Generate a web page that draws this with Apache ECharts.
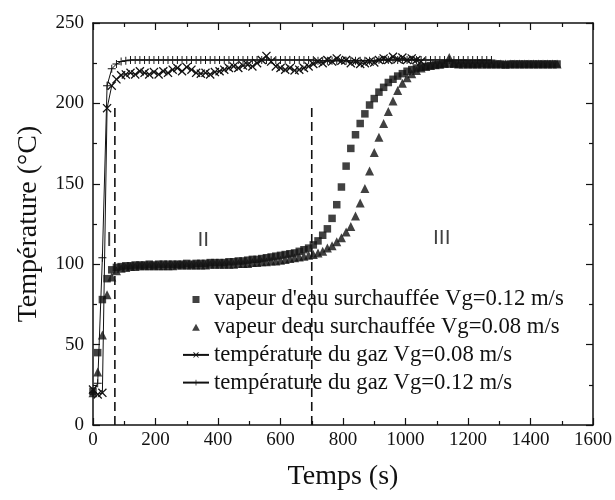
<!DOCTYPE html>
<html>
<head>
<meta charset="utf-8">
<script src="https://cdn.jsdelivr.net/npm/echarts@6/dist/echarts.min.js"></script>
<style>
  html, body { margin: 0; padding: 0; background: #fff; }
  #chart { width: 615px; height: 500px; }
</style>
</head>
<body>
<div id="chart"></div>
<script>
// superheated steam, Vg = 0.12 m/s  [time (s), temperature (°C)]
var steamFast = [
  [0, 21], [15, 45], [30, 78], [45, 91], [60, 96.5], [75, 98], [90, 98.5], [105, 99],
  [120, 99], [135, 99.5], [150, 99.5], [165, 99.5], [180, 100], [195, 99.5], [210, 100],
  [225, 100], [240, 100], [255, 100], [270, 100], [285, 100], [300, 100.5], [315, 100],
  [330, 100.5], [345, 100.5], [360, 100.5], [375, 101], [390, 101], [405, 101], [420, 101],
  [435, 101.5], [450, 101.5], [465, 102], [480, 102], [495, 102.5], [510, 103], [525, 103],
  [540, 103.5], [555, 104], [570, 104.5], [585, 105], [600, 105.5], [615, 106], [630, 106.5],
  [645, 107], [660, 108], [675, 109], [690, 110], [705, 112], [720, 114.5], [735, 118],
  [750, 122], [765, 128.5], [780, 137], [795, 148], [810, 161], [825, 172], [840, 180.5],
  [855, 187.5], [870, 193.5], [885, 199], [900, 203], [915, 207], [930, 210], [945, 213],
  [960, 215], [975, 217], [990, 218.5], [1005, 220], [1020, 221], [1035, 222], [1050, 222.5],
  [1065, 223], [1080, 223.5], [1095, 224], [1110, 224], [1125, 224.5], [1140, 224.5],
  [1155, 224.5], [1170, 224.5], [1185, 225], [1200, 224.5], [1215, 224.5], [1230, 224.5],
  [1245, 225], [1260, 224.5], [1275, 224.5], [1290, 224.5], [1305, 224.5], [1320, 224],
  [1335, 224.5], [1350, 224.5], [1365, 224.5], [1380, 224.5], [1395, 224.5], [1410, 224.5],
  [1425, 224.5], [1440, 224.5], [1455, 224.5], [1470, 224.5], [1485, 224.5]
];

// superheated steam, Vg = 0.08 m/s
var steamSlow = [
  [0, 20], [15, 33], [30, 56], [45, 81], [60, 92], [75, 96], [90, 97.5], [105, 98],
  [120, 98.5], [135, 98.5], [150, 99], [165, 99], [180, 99], [195, 99], [210, 99],
  [225, 99], [240, 99], [255, 99], [270, 99.5], [285, 99.5], [300, 99.5], [315, 99.5],
  [330, 99.5], [345, 99.5], [360, 99.5], [375, 100], [390, 100], [405, 100], [420, 100],
  [435, 100], [450, 100], [465, 100.5], [480, 100.5], [495, 100.5], [510, 101], [525, 101],
  [540, 101.5], [555, 101.5], [570, 102], [585, 102], [600, 102.5], [615, 103], [630, 103.5],
  [645, 104], [660, 104.5], [675, 105], [690, 105.5], [705, 106], [720, 107], [735, 108],
  [750, 110], [765, 111.5], [780, 114], [795, 116.5], [810, 120], [825, 123.5], [840, 130],
  [855, 138], [870, 147], [885, 158], [900, 169.5], [915, 179], [930, 187.5], [945, 195],
  [960, 201.5], [975, 208], [990, 212.5], [1005, 216], [1020, 218.5], [1035, 220.5],
  [1050, 222], [1065, 223], [1080, 223.5], [1095, 224], [1110, 224.5], [1125, 225],
  [1140, 228.5], [1155, 225], [1170, 224.5], [1185, 224.5], [1200, 224.5], [1215, 224.5],
  [1230, 224.5], [1245, 224.5], [1260, 224.5], [1275, 224.5], [1290, 224.5], [1305, 224.5],
  [1320, 224.5], [1335, 224.5], [1350, 224.5], [1365, 224.5], [1380, 224.5], [1395, 224.5],
  [1410, 224.5], [1425, 224.5], [1440, 224.5], [1455, 224.5], [1470, 224.5], [1485, 224.5]
];

// gas temperature, Vg = 0.08 m/s
var gasSlow = [
  [0, 22], [15, 19], [30, 20], [45, 197], [60, 211], [75, 215], [90, 217.5], [105, 218],
  [120, 219], [135, 218], [150, 220], [165, 219], [180, 218], [195, 219.5], [210, 218],
  [225, 220], [240, 219], [255, 221], [270, 222], [285, 220], [300, 222.5], [315, 221],
  [330, 219], [345, 218.5], [360, 219], [375, 218], [390, 219.5], [405, 220], [420, 221],
  [435, 222], [450, 223], [465, 222], [480, 223.5], [495, 224], [510, 223], [525, 225],
  [540, 227], [555, 229.5], [570, 226], [585, 223], [600, 222], [615, 221], [630, 222],
  [645, 220.5], [660, 221], [675, 222], [690, 223], [705, 224.5], [720, 226], [735, 225],
  [750, 227], [765, 226], [780, 228], [795, 226.5], [810, 227], [825, 225], [840, 226],
  [855, 224.5], [870, 225], [885, 226], [900, 225.5], [915, 227], [930, 228], [945, 227],
  [960, 229], [975, 227.5], [990, 228.5], [1005, 227], [1020, 228], [1035, 227], [1050, 226]
];

// gas temperature, Vg = 0.12 m/s
var gasFast = [
  [0, 20], [15, 26], [30, 104], [45, 211], [60, 221.5], [75, 224.5], [90, 226], [105, 226.5],
  [120, 227], [135, 227], [150, 227], [165, 227], [180, 227], [195, 227], [210, 227],
  [225, 227], [240, 227], [255, 227], [270, 227], [285, 227], [300, 227], [315, 227],
  [330, 227], [345, 227], [360, 227], [375, 227], [390, 227], [405, 227], [420, 227],
  [435, 227], [450, 227], [465, 227], [480, 227], [495, 227], [510, 227], [525, 227],
  [540, 227], [555, 227], [570, 227], [585, 227], [600, 227], [615, 227], [630, 227],
  [645, 227], [660, 227], [675, 227], [690, 227], [705, 227], [720, 226.5], [735, 226.5],
  [750, 226.5], [765, 226.5], [780, 226.5], [795, 226.5], [810, 226.5], [825, 226.5],
  [840, 226.5], [855, 226.5], [870, 226.5], [885, 226.5], [900, 226.5], [915, 227],
  [930, 227], [945, 227], [960, 227], [975, 227], [990, 227], [1005, 227], [1020, 227],
  [1035, 227], [1050, 227], [1065, 227], [1080, 227], [1095, 227], [1110, 227], [1125, 227],
  [1140, 227], [1155, 227], [1170, 227], [1185, 227], [1200, 227], [1215, 227], [1230, 227],
  [1245, 227], [1260, 227], [1275, 227]
];

var seriesNames = [
  "vapeur d'eau surchauffée Vg=0.12 m/s",
  'vapeur deau surchauffée Vg=0.08 m/s',
  'température du gaz Vg=0.08 m/s',
  'température du gaz Vg=0.12 m/s'
];

// stage boundaries (s) and the height the dashed lines reach (°C)
var stageBounds = [70, 700];
var stageTop = 200;
var stageNames = ['I', 'II', 'III'];
var stageLabelPos = [[52, 115], [353, 115], [1116, 116]];

var xTicks = { min: 0, max: 1600, interval: 200 };
var yTicks = { min: 0, max: 250, interval: 50 };

var ink = '#111';
var serif = "'Liberation Serif', 'DejaVu Serif', serif";
var crossPath = 'path://M1,0 L5,4 L9,0 L10,1 L6,5 L10,9 L9,10 L5,6 L1,10 L0,9 L4,5 L0,1 Z';
var plusPath = 'path://M4.4,0 L5.6,0 L5.6,4.4 L10,4.4 L10,5.6 L5.6,5.6 L5.6,10 L4.4,10 L4.4,5.6 L0,5.6 L0,4.4 L4.4,4.4 Z';
var squareIcon = 'path://M0,0 L10,0 L10,10 L0,10 Z';
var triangleIcon = 'path://M5,0 L10,9 L0,9 Z';

var chart = echarts.init(document.getElementById('chart'), null, { renderer: 'canvas' });

function frameAxis(extra) {
  var base = {
    axisLine: { show: true, onZero: false, lineStyle: { color: ink, width: 1.5 } },
    axisTick: { show: true, inside: true, length: 7, lineStyle: { color: ink, width: 1.2 } },
    minorTick: { show: true, splitNumber: 2, length: 4, lineStyle: { color: ink, width: 1.2 } },
    splitLine: { show: false },
    minorSplitLine: { show: false },
    axisLabel: { show: false }
  };
  return Object.assign(base, extra);
}

var dividerSeries = stageBounds.map(function (t) {
  return {
    type: 'line',
    data: [[t, 0], [t, stageTop]],
    symbol: 'none',
    silent: true,
    lineStyle: { color: ink, width: 1.6, type: [9, 5] },
    z: 1
  };
});

chart.setOption({
  animation: false,
  backgroundColor: '#fff',
  grid: { left: 93, right: 22, top: 23, bottom: 75, containLabel: false },
  legend: {
    orient: 'vertical',
    left: 182,
    top: 288,
    padding: 0,
    itemWidth: 26,
    itemHeight: 7,
    itemGap: 4.7,
    symbolKeepAspect: true,
    textStyle: { fontFamily: serif, fontSize: 22.7, color: ink, lineHeight: 23 },
    data: [
      { name: seriesNames[0], icon: squareIcon },
      { name: seriesNames[1], icon: triangleIcon },
      { name: seriesNames[2] },
      { name: seriesNames[3] }
    ]
  },
  xAxis: [
    frameAxis({
      type: 'value', position: 'bottom',
      min: xTicks.min, max: xTicks.max, interval: xTicks.interval,
      name: 'Temps (s)', nameLocation: 'middle', nameGap: 38,
      nameTextStyle: { fontFamily: serif, fontSize: 28, color: ink },
      axisLabel: {
        show: true, fontFamily: serif, fontSize: 19, color: ink, margin: 6,
        formatter: function (v) { return String(v); }
      }
    }),
    frameAxis({
      type: 'value', position: 'top',
      min: xTicks.min, max: xTicks.max, interval: xTicks.interval
    })
  ],
  yAxis: [
    frameAxis({
      type: 'value', position: 'left',
      min: yTicks.min, max: yTicks.max, interval: yTicks.interval,
      name: 'Température (°C)', nameLocation: 'middle', nameGap: 50,
      nameTextStyle: { fontFamily: serif, fontSize: 28, color: ink },
      axisLabel: {
        show: true, fontFamily: serif, fontSize: 19, color: ink, margin: 9,
        formatter: function (v) { return String(v); }
      }
    }),
    frameAxis({
      type: 'value', position: 'right',
      min: yTicks.min, max: yTicks.max, interval: yTicks.interval
    })
  ],
  series: dividerSeries.concat([
    {
      name: seriesNames[0],
      type: 'scatter',
      data: steamFast,
      symbol: 'rect',
      symbolSize: 7.5,
      itemStyle: { color: ink },
      z: 3
    },
    {
      name: seriesNames[1],
      type: 'scatter',
      data: steamSlow,
      symbol: 'triangle',
      symbolSize: 9,
      itemStyle: { color: ink },
      z: 3
    },
    {
      name: seriesNames[2],
      type: 'line',
      data: gasSlow,
      symbol: crossPath,
      symbolSize: 9,
      showAllSymbol: true,
      lineStyle: { color: ink, width: 1 },
      itemStyle: { color: ink },
      z: 2
    },
    {
      name: seriesNames[3],
      type: 'line',
      data: gasFast,
      symbol: plusPath,
      symbolSize: 8,
      showAllSymbol: true,
      lineStyle: { color: ink, width: 1 },
      itemStyle: { color: ink },
      z: 2
    },
    {
      type: 'scatter',
      data: stageLabelPos.map(function (p, i) { return { name: stageNames[i], value: p }; }),
      symbolSize: 0,
      silent: true,
      label: {
        show: true,
        position: 'inside',
        formatter: '{b}',
        fontFamily: "'Liberation Sans', 'DejaVu Sans', sans-serif",
        fontSize: 21,
        color: ink
      },
      z: 4
    }
  ])
});
</script>
</body>
</html>
